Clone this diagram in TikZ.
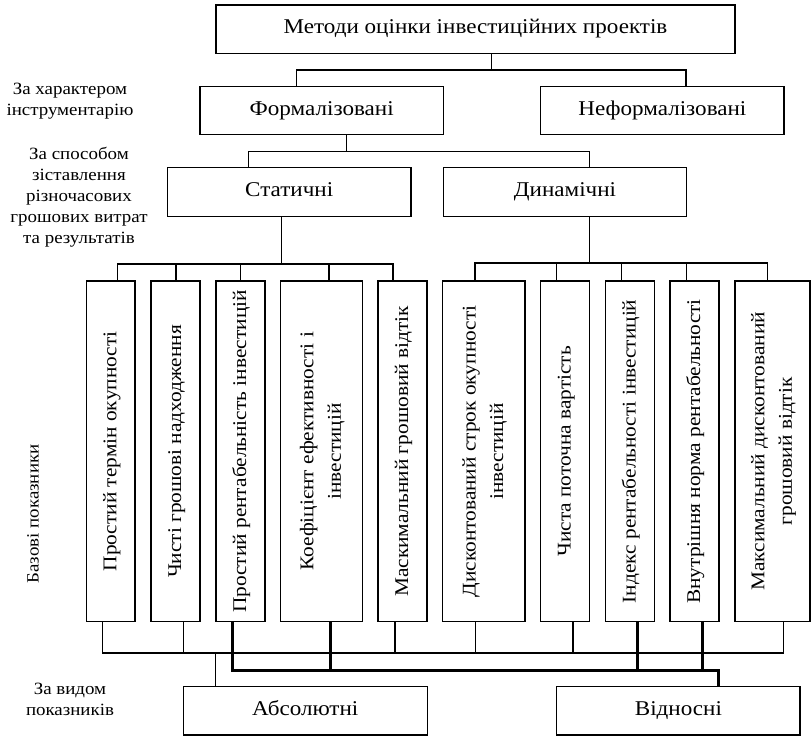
\documentclass[tikz,border=0pt]{standalone}
\usepackage{fontspec}
\setmainfont[FakeStretch=1.1]{Liberation Serif}
\usepackage{graphicx}
% text turned to read from bottom to top, one or more centred lines
\newcommand\uprt[1]{\rotatebox{90}{\begin{tabular}{@{}c@{}}#1\end{tabular}}}
\begin{document}
\begin{tikzpicture}[x=1pt,y=-1pt,
  box/.style={draw, line width=1.3pt, inner sep=0pt, font=\fontsize{21}{26}\selectfont},
  hbox/.style={box, text height=13.5pt, text depth=4.5pt},
  wbox/.style={hbox, minimum width=243.3pt, minimum height=48.5pt},
  vbox/.style={box, minimum height=340.7pt, font=\fontsize{19.4}{27.5}\selectfont},
  lbl/.style={align=center, inner sep=0pt, font=\fontsize{17.2}{21}\selectfont},
  link/.style={line width=1.3pt},
  heavy/.style={line width=3pt, line join=miter}]
\useasboundingbox (0,0) rectangle (812,736);

% upper levels of the classification
\node[hbox, minimum width=519pt, minimum height=48.3pt] (top) at (475.5,29.2) {Методи оцінки інвестиційних проектів};
\node[wbox] (form) at (321.7,110.5) {Формалізовані};
\node[wbox] (neform) at (662.4,110.5) {Неформалізовані};
\node[wbox] (stat) at (289.2,191.9) {Статичні};
\node[wbox] (dyn) at (565,191.9) {Динамічні};

% basic indicators
\node[vbox, minimum width=48.3pt] (b1) at (110.9,451.4) {\uprt{Простий термін окупності}};
\node[vbox, minimum width=49pt] (b2) at (175.5,451.4) {\uprt{Чисті грошові надходження}};
\node[vbox, minimum width=49pt] (b3) at (240.5,451.4) {\uprt{Простий рентабельність інвестицій}};
\node[vbox, minimum width=82pt] (b4) at (321.7,451.4) {\uprt{Коефіцієнт ефективності і\\інвестицій}};
\node[vbox, minimum width=49pt] (b5) at (402.5,451.4) {\uprt{Маскимальний грошовий відтік}};
\node[vbox, minimum width=82.3pt] (b6) at (483.9,451.4) {\uprt{Дисконтований строк окупності\\інвестицій}};
\node[vbox, minimum width=48.6pt] (b7) at (565,451.4) {\uprt{Чиста поточна вартість}};
\node[vbox, minimum width=48.6pt] (b8) at (630,451.4) {\uprt{Індекс рентабельності інвестицій}};
\node[vbox, minimum width=49pt] (b9) at (694.5,451.4) {\uprt{Внутрішня норма рентабельності}};
\node[vbox, minimum width=75pt] (b10) at (772.5,451.4) {\uprt{Максимальний дисконтований\\грошовий відтік}};

% kinds of indicators
\node[hbox, minimum width=244pt, minimum height=48.3pt] (abs) at (305.3,710.9) {Абсолютні};
\node[hbox, minimum width=243.3pt, minimum height=48.3pt] (rel) at (678.4,710.9) {Відносні};

% criteria on the left
\node[lbl] (l1) at (70,101) {За характером\\інструментарію};
\node[lbl] (l2) at (79,197) {За способом\\зіставлення\\різночасових\\грошових витрат\\та результатів};
\node[lbl, rotate=90] (l3) at (33,514) {Базові показники};
\node[lbl] (l4) at (70,699) {За видом\\показників};

% top -> formalised / informal
\coordinate (t0) at (491.7,70);
\draw[link] (top.south -| t0) -- (t0);
\draw[link] (form.north -| 296.7,0) |- (t0) -| (neform.north -| 686,0);

% formalised -> static / dynamic
\coordinate (f0) at (346.7,151.7);
\draw[link] (form.south -| f0) -- (f0);
\draw[link] (stat.north -| 248.3,0) |- (f0) -| (dyn.north -| 589.3,0);

% static -> its indicators
\coordinate (s0) at (281.7,264);
\coordinate (sL) at (117.7,264);
\coordinate (sR) at (393,264);
\draw[link] (stat.south -| s0) -- (s0);
\draw[link] (b1.north -| sL) -- (sL) -- (sR) -- (b5.north -| sR);
\foreach \x/\b in {176/b2, 240.7/b3, 329/b4}
  \draw[link] (\b.north -| \x,0) -- (sL -| \x,0);

% dynamic -> its indicators
\coordinate (d0) at (589.3,263);
\coordinate (dL) at (475,263);
\coordinate (dR) at (767.7,263);
\draw[link] (dyn.south -| d0) -- (d0);
\draw[link] (b6.north -| dL) -- (dL) -- (dR) -- (b10.north -| dR);
\foreach \x/\b in {556.7/b7, 621.3/b8, 686.3/b9}
  \draw[link] (\b.north -| \x,0) -- (dL -| \x,0);

% absolute indicators
\coordinate (uL) at (102.7,653);
\coordinate (uR) at (783.3,653);
\draw[link] (b1.south -| uL) -- (uL) -- (uR) -- (b10.south -| uR);
\foreach \x/\b in {183.7/b2, 395/b5, 475.7/b6, 573/b7}
  \draw[link] (\b.south -| \x,0) -- (uL -| \x,0);
\draw[link] (uL -| 215.7,0) -- (abs.north -| 215.7,0);

% relative indicators
\coordinate (hL) at (232.3,670);
\coordinate (hR) at (718.3,670);
\draw[heavy] (b3.south -| hL) -- (hL) -- (hR) -- (rel.north -| hR);
\foreach \x/\b in {330/b4, 637.7/b8, 702.7/b9}
  \draw[heavy] (\b.south -| \x,0) -- (hL -| \x,0);
\end{tikzpicture}
\end{document}
